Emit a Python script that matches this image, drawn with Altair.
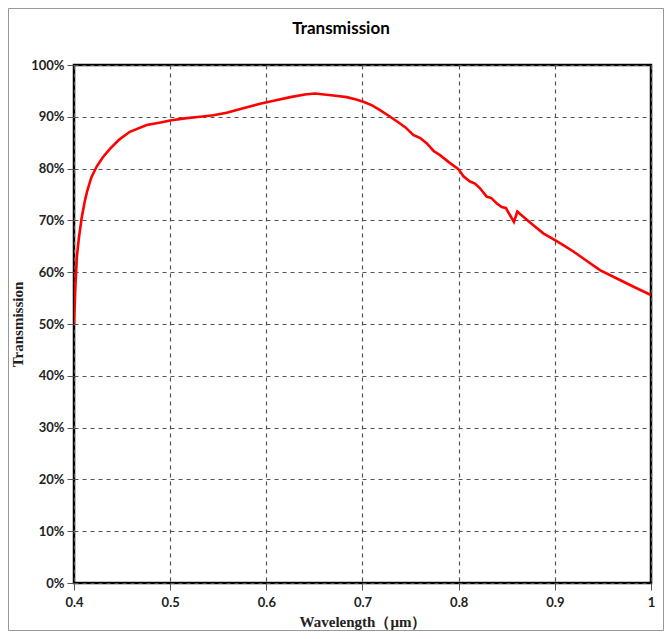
import altair as alt
import pandas as pd

wavelength = [0.400, 0.4008, 0.4015, 0.403, 0.405, 0.408, 0.411, 0.4135, 0.418, 0.4236,
              0.430, 0.4374, 0.447, 0.458, 0.4756, 0.490, 0.500, 0.515, 0.531, 0.545,
              0.5588, 0.575, 0.5934, 0.610, 0.625, 0.640, 0.6506, 0.660, 0.6697, 0.6836,
              0.6925, 0.7009, 0.710, 0.7182, 0.728, 0.739, 0.745, 0.7528, 0.760, 0.7667,
              0.774, 0.7806, 0.790, 0.7997, 0.805, 0.8118, 0.817, 0.8222, 0.8291, 0.834,
              0.8395, 0.8447, 0.849, 0.8534, 0.8575, 0.861, 0.8672, 0.878, 0.888, 0.9002,
              0.910, 0.9193, 0.933, 0.9469, 0.9677, 0.984, 1.000]
transmission = [50.0, 54.0, 57.5, 63.0, 66.5, 70.5, 73.5, 75.5, 78.3, 80.4,
                82.2, 83.8, 85.6, 87.1, 88.4, 88.9, 89.3, 89.7, 90.0, 90.3,
                90.8, 91.6, 92.5, 93.2, 93.8, 94.3, 94.5, 94.3, 94.1, 93.8,
                93.4, 92.9, 92.2, 91.3, 90.1, 88.7, 87.9, 86.5, 85.9, 84.9,
                83.4, 82.6, 81.2, 79.9, 78.5, 77.5, 77.1, 76.2, 74.6, 74.3,
                73.3, 72.6, 72.4, 71.0, 69.7, 71.7, 70.7, 69.0, 67.5, 66.2,
                65.1, 64.0, 62.2, 60.4, 58.5, 57.0, 55.6]

x_ticks = [0.4, 0.5, 0.6, 0.7, 0.8, 0.9, 1.0]
y_ticks = [0, 0.1, 0.2, 0.3, 0.4, 0.5, 0.6, 0.7, 0.8, 0.9, 1.0]
chart_title = ["Transmission"]

df = pd.DataFrame({"wl": wavelength, "t": [v / 100 for v in transmission]})

W, H = 577, 518
PL, PT, PR, PB = 66, 57, 13, 48

line = alt.Chart(df).mark_line(color="#ff0000", strokeWidth=2.6, clip=True).encode(
    x=alt.X("wl:Q",
            scale=alt.Scale(domain=[0.4, 1.0], nice=False, zero=False),
            axis=alt.Axis(values=x_ticks, labelExpr="datum.value == 1 ? '1' : format(datum.value, '.1f')",
                          title="Wavelength（μm）", grid=True, titleX=W / 2, titleY=38,
                          titleBaseline="middle")),
    y=alt.Y("t:Q",
            scale=alt.Scale(domain=[0, 1.0], nice=False),
            axis=alt.Axis(values=y_ticks, format=".0%", title="Transmission", grid=True,
                          titleX=-57, titleY=H / 2, titleBaseline="middle", titleAngle=270)),
)

border = alt.Chart(pd.DataFrame({"a": [0]})).mark_rect(
    fill=None, stroke="#999999", strokeWidth=1, clip=False
).encode(
    x=alt.value(-PL + 0.5), x2=alt.value(W + PR - 0.5),
    y=alt.value(-PT + 0.5), y2=alt.value(H + PB - 0.5),
)

title = alt.Chart(pd.DataFrame({"label": chart_title})).mark_text(
    font="Lato", fontSize=17, fontWeight="bold", color="#000000",
    align="center", baseline="middle", clip=False
).encode(
    text="label:N", x=alt.value(267), y=alt.value(-36)
)

chart = alt.layer(border, line, title).properties(
    width=W, height=H,
    padding={"left": PL, "top": PT, "right": PR, "bottom": PB},
    autosize=alt.AutoSizeParams(type="none"),
).configure_view(
    stroke="#000000", strokeWidth=2.5
).configure_axis(
    gridColor="#555555", gridDash=[4, 4], gridWidth=1.2, gridOpacity=1,
    domain=False, tickColor="#555555", tickSize=7, tickWidth=1, labelFlush=False,
    labelFont="Lato", labelFontWeight="bold", labelFontSize=13, labelColor="#222222",
    titleFont="Liberation Serif", titleFontWeight="bold", titleFontSize=15, titleColor="#222222",
).configure_axisX(
    labelPadding=6,
).configure_axisY(
    labelPadding=3,
)

chart.save("out.html", embed_options={"renderer": "svg", "actions": False})
